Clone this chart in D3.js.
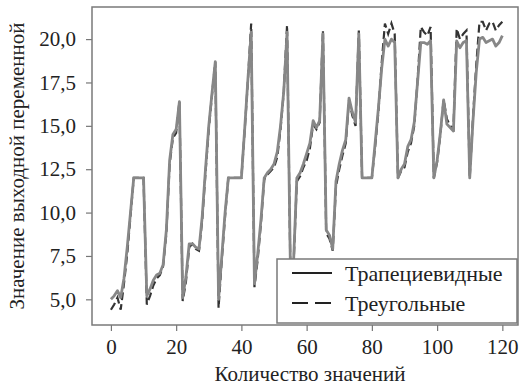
<!DOCTYPE html>
<html>
<head>
<meta charset="utf-8">
<script src="https://cdn.jsdelivr.net/npm/d3@7"></script>
<style>
  body { margin: 0; background: #fff; }
</style>
</head>
<body>
<div id="chart"></div>
<script>
// values, one per step (0..120)
const trapezoid = [
  5.0, 5.2, 5.5, 5.1, 6.2, 8.0, 10.0, 12.0, 12.0, 12.0, 12.0,
  5.2, 5.6, 6.1, 6.4, 6.5, 7.0, 9.0, 13.0, 14.5, 14.8, 16.4,
  5.1, 6.3, 8.2, 8.2, 8.0, 7.9, 9.8, 12.5, 15.0, 16.9, 18.7,
  5.0, 7.5, 10.0, 12.0, 12.0, 12.0, 12.0, 12.0, 14.8, 17.7, 20.4,
  5.9, 7.6, 9.6, 12.0, 12.3, 12.5, 12.8, 13.5, 15.0, 17.0, 20.4,
  7.1, 7.2, 12.0, 12.3, 12.8, 13.4, 14.0, 15.3, 14.9, 15.3, 20.3,
  9.0, 8.7, 7.9, 11.8, 12.8, 13.6, 14.2, 16.6, 15.8, 15.2, 20.3,
  12.0, 12.0, 12.0, 12.0, 14.0, 16.0, 18.3, 20.0, 19.6, 20.0, 19.8,
  12.0, 12.5, 12.8, 13.8, 14.2, 15.2, 17.5, 19.8, 19.8, 19.7, 19.9,
  12.0, 13.0, 14.6, 16.5, 15.1, 14.9, 14.7, 19.9, 19.5, 19.8, 19.9,
  12.0, 15.3, 18.1, 20.0, 20.1, 19.8, 19.9, 20.0, 19.6, 19.8, 20.2
];
const triangle = [
  4.4, 4.7, 5.1, 4.4, 5.9, 7.6, 9.8, 12.0, 12.0, 12.0, 12.0,
  4.7, 5.2, 5.8, 6.2, 6.4, 6.9, 8.8, 12.8, 14.3, 14.6, 16.4,
  4.9, 6.0, 8.0, 8.2, 7.9, 7.8, 9.6, 12.3, 14.8, 16.8, 18.7,
  4.5, 7.3, 9.8, 12.0, 12.0, 12.0, 12.0, 12.0, 14.7, 17.6, 20.9,
  5.7, 7.3, 9.4, 11.9, 12.2, 12.4, 12.6, 13.2, 14.8, 17.0, 20.8,
  6.9, 7.0, 11.8, 12.1, 12.6, 13.0, 13.7, 15.1, 14.8, 15.2, 20.5,
  8.8, 8.5, 7.8, 11.5, 12.5, 13.3, 14.0, 16.5, 15.6, 15.0, 20.5,
  12.0, 12.0, 12.0, 12.0, 13.8, 15.8, 18.6, 20.9, 20.3, 20.9, 20.3,
  12.0, 12.4, 12.6, 13.5, 14.0, 15.0, 17.6, 20.7, 20.4, 20.2, 20.7,
  12.0, 12.9, 14.5, 16.5, 15.4, 15.0, 14.8, 20.6, 20.0, 20.3, 20.5,
  12.0, 15.5, 18.5, 21.0, 21.0, 20.5, 20.9, 21.0, 20.5, 20.8, 21.0
];
const xTicks = [0, 20, 40, 60, 80, 100, 120];
const yTicks = [5.0, 7.5, 10.0, 12.5, 15.0, 17.5, 20.0];
const seriesNames = ['Трапециевидные', 'Треугольные'];

const width = 519, height = 385;
const plotLeft = 92, plotRight = 518, plotTop = 7, plotBottom = 325;
const serif = '"Liberation Serif", "Times New Roman", serif';

const svg = d3.select('#chart').append('svg')
  .attr('width', width)
  .attr('height', height)
  .style('font-family', serif);

const x = d3.scaleLinear().domain([-5.8, 124.8]).range([plotLeft, plotRight]);
const y = d3.scaleLinear().domain([3.52, 21.85]).range([plotBottom, plotTop]);

const fmt = d => d.toFixed(1).replace('.', ',');

// axes
const xAxis = svg.append('g')
  .attr('transform', `translate(0,${plotBottom})`)
  .call(d3.axisBottom(x).tickValues(xTicks).tickSize(6).tickPadding(8));
const yAxis = svg.append('g')
  .attr('transform', `translate(${plotLeft},0)`)
  .call(d3.axisLeft(y).tickValues(yTicks).tickFormat(fmt).tickSize(6).tickPadding(10));

[xAxis, yAxis].forEach(a => {
  a.attr('font-family', null).attr('font-size', null);
  a.select('.domain').remove();
  a.selectAll('line').attr('stroke', '#777').attr('stroke-width', 1.2);
  a.selectAll('text')
    .style('font-family', serif)
    .style('font-size', '21px')
    .attr('fill', '#222');
});

// lines
const line = d3.line()
  .x((d, i) => x(i))
  .y(d => y(d));

svg.append('path')
  .datum(triangle)
  .attr('fill', 'none')
  .attr('stroke', '#333')
  .attr('stroke-width', 2.2)
  .attr('stroke-dasharray', '8,4')
  .attr('d', line);

svg.append('path')
  .datum(trapezoid)
  .attr('fill', 'none')
  .attr('stroke', '#878787')
  .attr('stroke-width', 2.8)
  .attr('stroke-linejoin', 'round')
  .attr('d', line);

// frame
svg.append('rect')
  .attr('x', plotLeft).attr('y', plotTop)
  .attr('width', plotRight - plotLeft).attr('height', plotBottom - plotTop)
  .attr('fill', 'none')
  .attr('stroke', '#7a7a7a')
  .attr('stroke-width', 1.5);

// axis titles
svg.append('text')
  .attr('x', 310).attr('y', 381)
  .attr('text-anchor', 'middle')
  .attr('fill', '#222')
  .style('font-size', '21px')
  .text('Количество значений');

svg.append('text')
  .attr('transform', 'translate(24,166) rotate(-90)')
  .attr('text-anchor', 'middle')
  .attr('fill', '#222')
  .style('font-size', '21px')
  .text('Значение выходной переменной');

// legend
const legend = svg.append('g');
legend.append('rect')
  .attr('x', 277).attr('y', 259)
  .attr('width', 240).attr('height', 64)
  .attr('fill', '#fff')
  .attr('stroke', '#7a7a7a')
  .attr('stroke-width', 1.5);

seriesNames.forEach((name, i) => {
  const ly = 273 + i * 30;
  legend.append('line')
    .attr('x1', 292).attr('x2', 332)
    .attr('y1', ly).attr('y2', ly)
    .attr('stroke', '#222')
    .attr('stroke-width', 2.2)
    .attr('stroke-dasharray', i === 1 ? '16,7' : null);
  legend.append('text')
    .attr('x', 345).attr('y', ly + 8)
    .attr('fill', '#222')
    .style('font-size', '22px')
    .text(name);
});
</script>
</body>
</html>
